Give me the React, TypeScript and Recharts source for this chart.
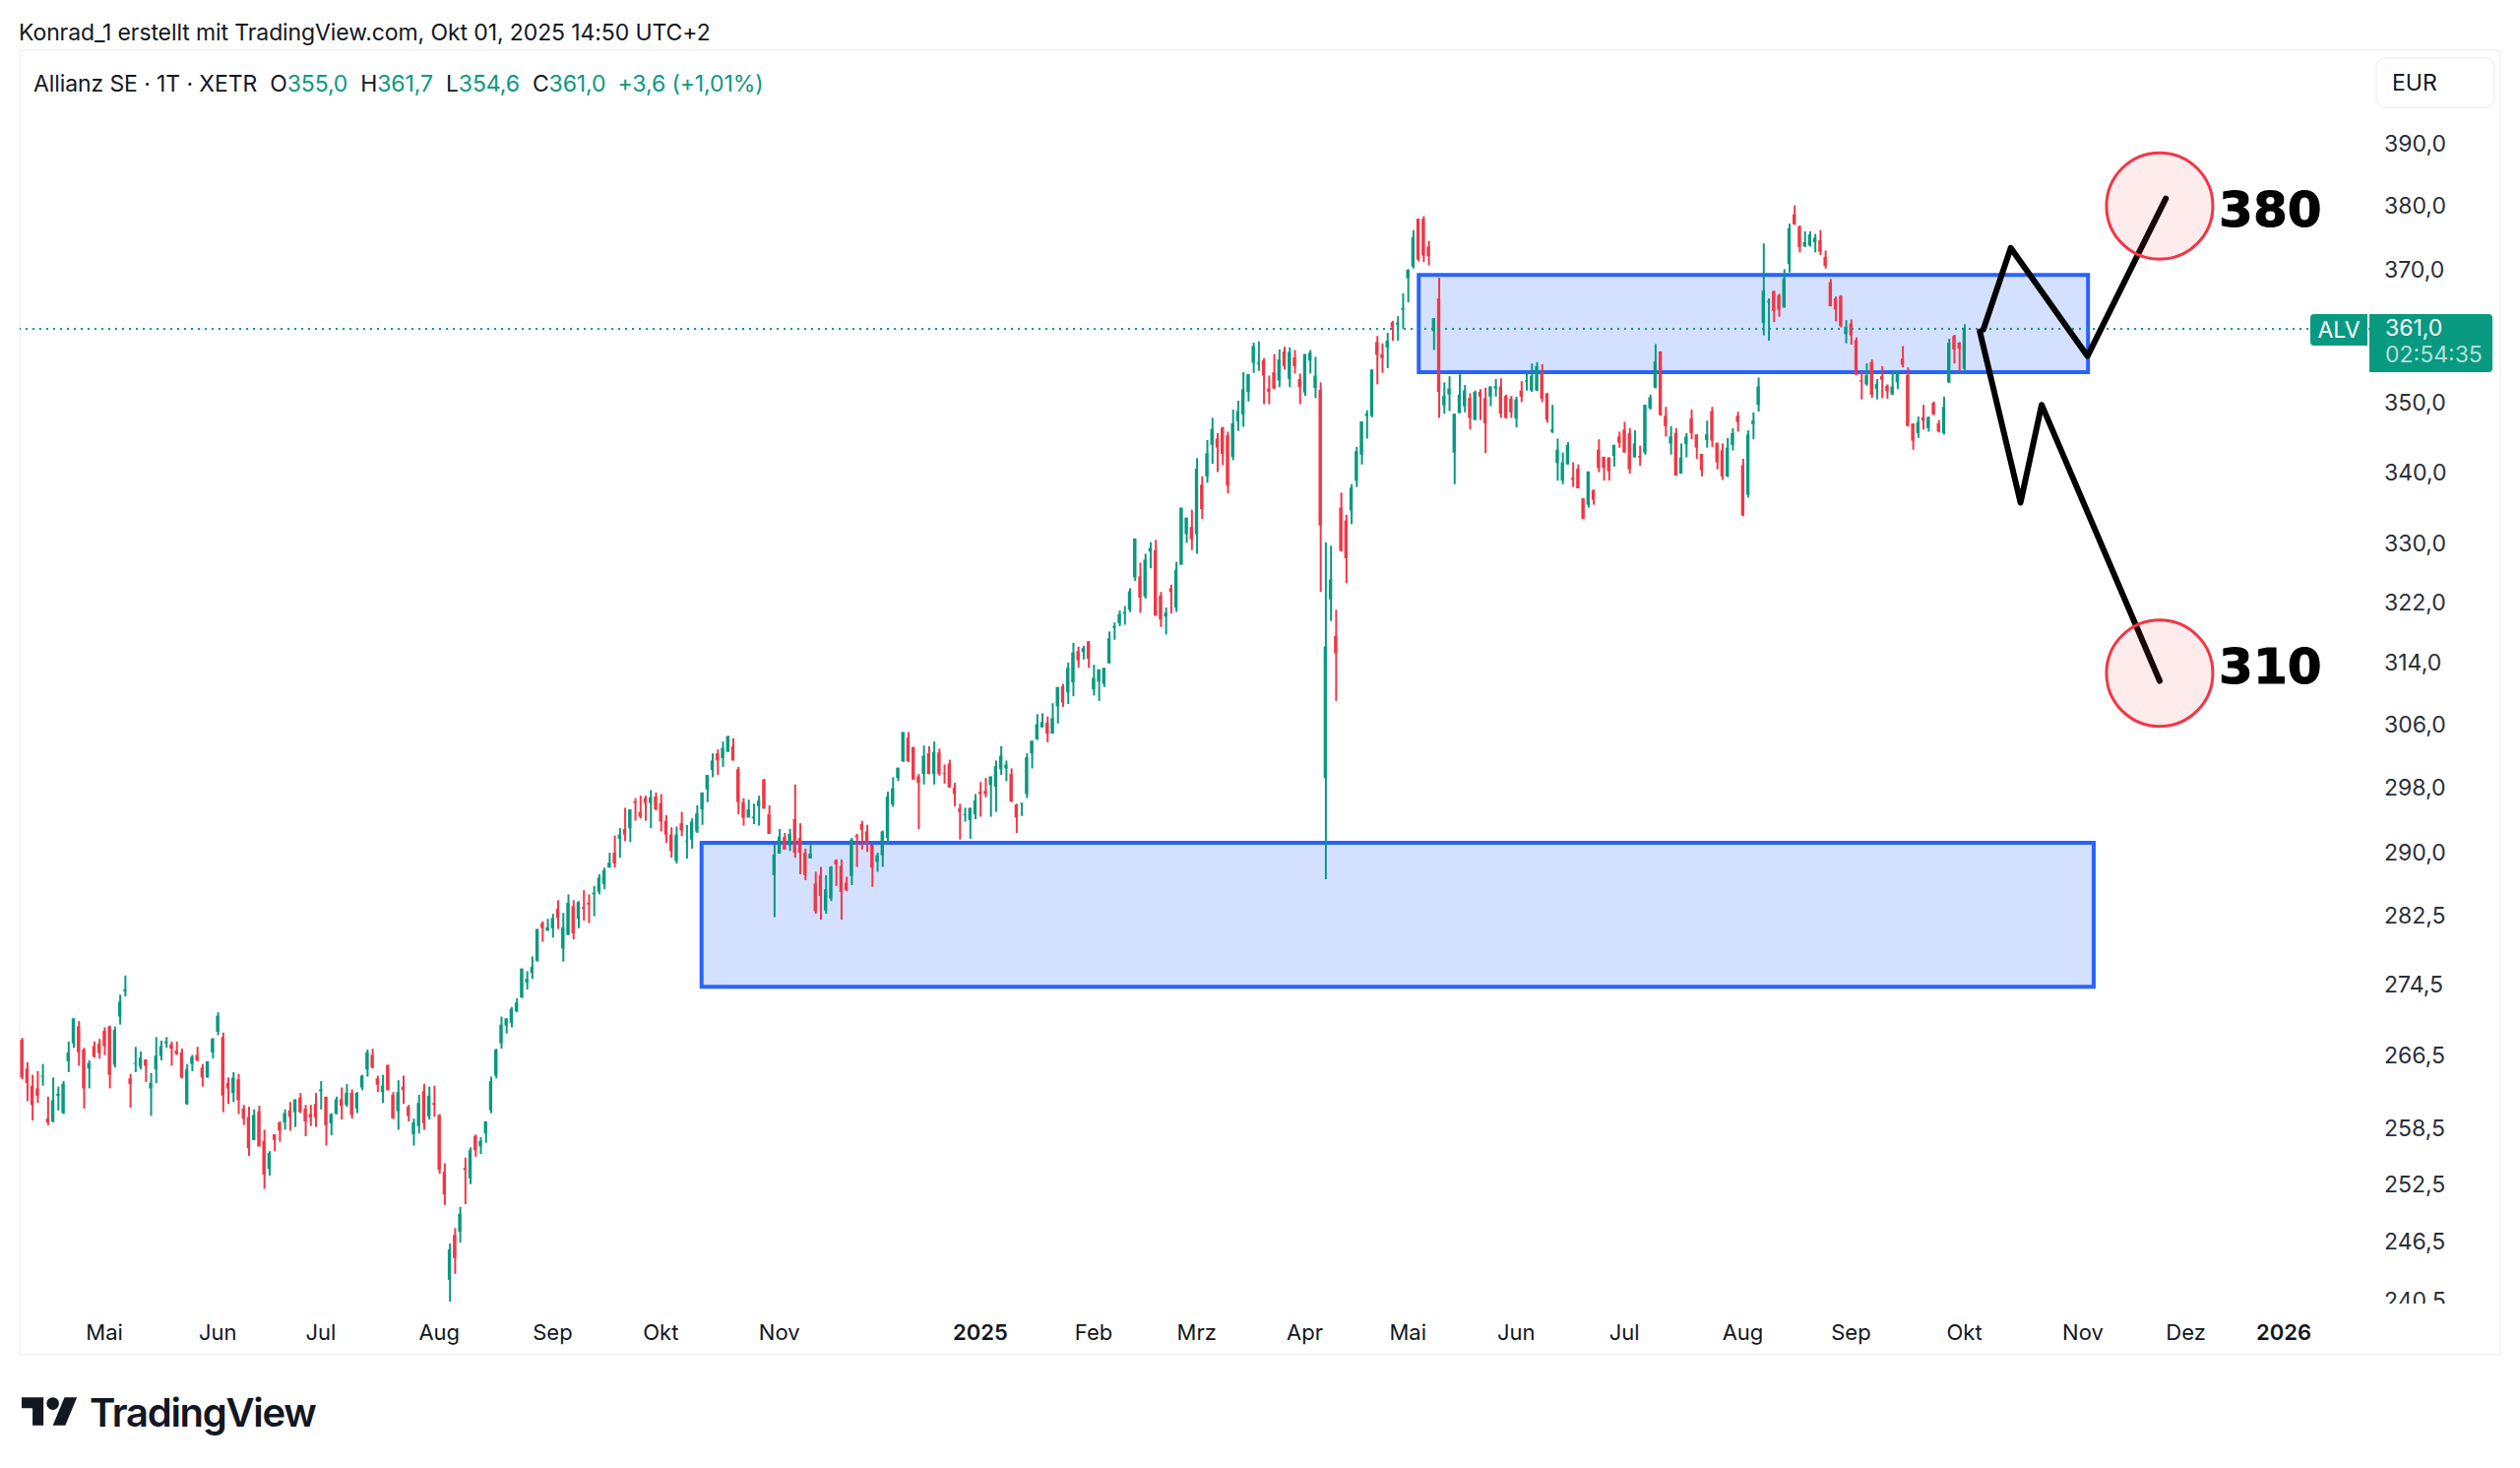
import { ComposedChart, Bar, Cell, Line, XAxis, YAxis, ReferenceArea, ReferenceDot, ReferenceLine } from "recharts"

const UP = "#089981"
const DOWN = "#F23645"
const BLUE = "#2962FF"
const INK = "#131722"
const FONT = "Inter, Roboto, sans-serif"

// daily candles, left to right
const opens = [
  268.2,265,263.1,262.8,264.1,259.5,259.2,262,260.1,265.8,
  267.8,269.7,267.1,265,267.5,267.8,269.2,269.7,265.4,270.8,
  273.7,263.9,265.5,265.2,266,262.8,264.9,266.4,267.8,267.7,
  267,266.8,261.1,265.5,266.5,265.1,264,266.8,269.1,268.5,
  263.4,262.3,263.8,260.6,259.7,257.2,260.3,257.1,254.1,257.8,
  259.1,259.1,260.4,260.2,261.8,260.6,260,261.1,262.5,261.9,
  259,260,261.6,261,262.3,260.6,262.9,264.9,266.5,263.9,
  262.4,265.4,262.1,260.3,263,260.8,257.8,258.7,262.5,259.7,
  261.2,259.9,253.8,242.6,247.2,247.5,254.2,253.1,257.6,256.5,
  257.9,260.4,264.2,267.8,269.8,270.1,271.4,273,274.7,275.8,
  277.2,281.6,280.7,281,283.3,278.6,280.2,283.6,282.1,283.5,
  284,285,285.3,286.2,288.2,290,291.7,292.9,293,296.3,
  295,296.7,296.1,296.9,296.1,293.9,292.2,289,293.6,291.3,
  291.6,292.6,295.3,297.8,300.2,302.3,301.7,302.5,303.2,300.3,
  296.2,294.3,294.2,295.7,299,294.7,287.3,289.9,291.9,290.9,
  294.1,291.8,290,289.3,286.3,287.3,283.1,284.5,289.1,288.4,
  286.4,287.2,292.1,293.5,292.6,291,288.9,289.7,291.8,295.9,
  299.2,301.3,304.3,303.1,299.4,299.7,302.3,299.7,302.4,299.8,
  301,298,295.4,294.6,294,294.7,297.5,297.6,298.3,298.1,
  300.3,300.4,299.7,295.9,296,297.2,302.3,304.1,305.6,306.2,
  304.8,308.3,310.9,310.1,311.4,315.5,315.4,316.8,310.5,311.5,
  311.2,313.9,318.6,319.2,320.5,321,325.4,325.5,322.8,328.9,
  329.1,322.9,320.1,323.9,321.3,327.1,331.3,332.3,331.3,338.2,
  339.4,343.9,344.8,346.4,345.3,342.2,347.3,348.3,351.6,355.9,
  355.7,356.3,352.1,354.5,353.3,357.6,353.5,356.7,353.5,351.5,
  356.2,352.2,351.9,299.2,322.4,317.5,335,333.2,334.6,338.8,
  342.5,348.1,348.1,359,357.2,358.2,362,361.6,363.9,368.7,
  370.5,378,378,373.6,360.6,365.6,349.6,351.2,342.8,348.5,
  349.5,350.7,347.5,351.6,350.7,350.9,352.1,352.4,351,350.6,
  347.7,351.8,353.1,351.8,351.8,354.3,351.4,345.8,341.3,338.8,
  341.1,339.2,340.5,336.3,335.4,337.5,343.2,342.2,342.1,342.3,
  345.1,346.1,345.6,342.1,342.3,342.8,349.2,352.2,357.6,348.1,
  344.1,345.6,339.8,344,347.7,345.4,342.6,344.6,348.8,344.2,
  343.1,339.4,343.9,348.1,341,336.8,346.9,349.7,361.9,365,
  366.7,366.1,364.2,370.9,378.7,376.8,373.7,373.8,374.3,374.6,
  372,368.1,365.6,366,360.2,361.8,359.3,353.3,352.7,356,
  352,353.9,352.5,351.2,353,356.5,354.1,347,345.6,347.9,
  346.3,350,347,345.6,353,359.9,358.9,355,
]
const highs = [
  268.4,265.7,264.3,264.7,265.5,261.9,264,263,263.6,268,
  270.6,270.3,267.3,265.9,268,268.3,269.6,269.8,269.7,273.3,
  275.5,264.4,267.4,266.9,266,264.5,268.5,268.1,268.5,268,
  268,267.2,265.5,266.5,267.4,265.5,265.8,268.4,271.3,269,
  264,264.6,264.4,261,260.8,260.5,260.9,258.3,256,257.8,
  259.2,260.5,261.3,261.6,262.3,261,261,262.3,263.6,261.9,
  260.1,261.9,262.9,263.3,262.7,262.4,264.3,267.1,267.2,264.2,
  264.3,265.4,262.4,263.7,264.2,261,259.5,262.1,263.3,263,
  263.1,260,254.7,246.3,247.9,250.1,255.3,256.4,257.8,257.5,
  259.2,264.1,267.2,270.8,270.6,271.9,272.9,276.3,276,277.7,
  280.9,281.8,282.1,282.7,284.3,282.8,285,284.3,284.2,285.5,
  285,286,287.4,288.2,290,292.1,293,295.5,295.3,296.7,
  297,297,297.7,297.4,297.2,294.6,293.1,293.2,295,293.4,
  294.2,295.8,297.4,299.6,302.3,302.8,303.8,304.5,304.2,300.6,
  296.7,296.5,296,297,299.1,295.8,291,292.9,292.4,292.9,
  298.4,293.6,290.5,291.2,287.7,288.3,287.3,288.4,289.2,289.2,
  287.1,291.8,292.3,293.9,293.4,291,290,292.7,297.5,299.3,
  300.5,305,305,303.1,299.7,303.3,303.2,303.8,302.9,300.9,
  301.5,298.6,296,295.5,295.5,297.2,298.7,299.2,299.4,301.4,
  303.2,301.4,300.4,296,296.1,302.3,303.9,307.3,307.4,307,
  308.7,310.8,311.2,314,316.6,316.1,316.2,316.8,313.7,313.1,
  313.3,318.1,319.3,320.9,321.5,323.9,330.7,327.4,328.6,330.2,
  330.5,323.4,321.3,324.4,327.5,335,333.6,334.7,342,339.4,
  344.6,347.8,345.6,346.5,345.8,349,350.3,354.5,354.2,358.9,
  359.1,356.6,354,357.2,357.9,358.3,358.2,357.8,354.3,357.2,
  357.8,356.8,353,330.2,329.7,321,337.1,334,338.3,343.6,
  347.3,348.9,354.9,359.9,358.8,360.4,362.2,362.9,366.4,370.1,
  376.2,378,378.4,374.5,362.6,368.8,353,353.9,348.4,354.2,
  352.6,351.4,351.8,352,352.2,352.4,353.5,353.6,351.2,351,
  350.9,353.2,354.6,355.8,356,355.7,351.4,349.7,344.8,342.8,
  344.3,341.4,341.1,336.3,340.1,337.5,344.7,342.2,342.1,343.9,
  345.8,347.2,346.3,346,343.8,349.7,351.2,358.7,357.6,349.4,
  346.6,346.3,344.1,345.6,349,345.4,342.6,347.4,349.4,344.2,
  344.1,344.9,346.3,348.7,341.9,346,348.6,353.7,374.1,365.6,
  366.8,366.3,370.1,377.2,380.1,376.9,376,376,375.6,376.2,
  373,368.6,365.9,366.1,362.3,362.4,359.7,354.6,355.8,356.4,
  353.5,355.4,352.7,354.6,354.8,358.4,355.2,347,348,349.7,
  348,350.2,347.5,350.9,359.5,360.1,359,361.7,
]
const lows = [
  263.8,261.4,259.3,261.2,263.1,258.8,259.1,260.4,260,264.6,
  267.3,265.3,260.6,262.8,266.2,266.1,266.5,262.8,265.1,269.9,
  273.1,260.7,264.6,264.9,263.5,259.8,263.4,265.9,267.3,265.3,
  266.5,263.9,261,264.7,265.8,263,264,266.1,268.7,260.2,
  261.1,261.3,260,258.8,255.5,257.2,256.5,252,253.4,256,
  257,258.3,258.2,258.6,260.1,257.6,258.7,258.6,260.5,256.6,
  257.7,260,259.4,260.8,259.5,260.1,262.6,264.1,265,262.4,
  261.2,262.6,259.5,258.3,261.1,259.2,256.6,257.9,258.3,259.4,
  259.7,253.6,250.3,240.4,243.2,246.4,250.4,252.5,255.4,255.7,
  256.9,260.1,263.9,267.2,268.9,269.6,271.3,272.9,273.9,275.1,
  277.1,279.4,280.7,279.9,280.9,277.1,280.2,279.7,281,281.9,
  281.6,282.4,285,285.6,288.2,288.2,289.4,291.4,291.3,293.9,
  294.2,293.9,293,295.2,292.6,291.2,289.4,288.7,292,289.3,
  290.5,292.4,293.4,296.2,299.3,299.6,300.6,302.5,301.4,294.7,
  293.3,294.3,293.5,293.3,295.4,292.3,282.3,289.9,290.4,290.2,
  289.4,287.4,286.7,289.3,282.7,282,282.7,284.2,286,282,
  285.4,286.1,288.3,290.4,290.1,285.9,287.7,288.3,291.1,295.6,
  298.8,301.2,301.2,299,292.9,298.4,299.7,298.4,299.5,298.5,
  298,295.7,291.6,293.8,291.7,294.1,294.4,296.8,294.4,295,
  299.6,298.8,296.2,292.4,294.5,296.7,300.4,304,305.6,303.7,
  304.8,306.1,308.2,308.6,309.6,313.3,314.4,313.3,309.7,309,
  310.8,313.9,317,318.8,319,320.7,324.9,320.6,322.5,326.6,
  320.2,318.7,317.7,320.5,320.7,327.1,330.1,329.1,328.6,333.4,
  338.5,341.2,340,341,337,341.7,345.9,346.5,350.2,354.4,
  354.7,349.8,349.8,352,352.3,354.9,352.3,354.3,349.8,351,
  354.3,350.7,323.4,286.8,319.5,309,328.9,324.6,332.7,337.9,
  341.1,344.8,347.9,352.7,354.4,355.1,359.2,359.2,361,365,
  370.2,371.3,371.2,370.7,357.8,347.8,348.4,348.8,338.3,348.5,
  348.6,346.1,347.5,347.5,342.7,349.5,350.9,347.8,347.7,347.8,
  346.4,350.1,351.8,351.6,351.7,350.1,347.1,345.6,338.8,338.3,
  341.1,337.9,337.7,333.4,335,335.4,340,338.8,338.8,340.8,
  343.5,342.8,339.8,342.1,340.9,342.5,349,352.1,348.1,345.1,
  342.5,339.5,339.8,342.1,344.7,341.9,339.4,343.5,343.6,340.4,
  338.9,339.3,343.1,345.8,333.8,336.4,344.7,348.7,360,359.2,
  362,362.8,364.2,369.6,377,372.7,373.5,373.6,372.7,372.3,
  370.2,364.4,362.1,361.2,358.8,358.6,354.1,350.5,352.5,350.7,
  350.5,350.7,350.6,351.2,352,355.2,346.6,343.2,344.9,346.1,
  345.8,348.2,345.7,345.4,352.9,355.8,354.6,354.6,
]
const closes = [
  264,263.4,261,262,264.2,259.1,261.5,262.2,263.3,266.8,
  270.6,266.8,262.8,265.6,266.3,266.7,267.5,264.3,269.3,272.5,
  273.9,263.3,265.6,266.2,265.3,263.4,266.4,267.5,268,267.2,
  266.6,264,264.9,266.3,265.9,264,265.8,268.3,270.9,262,
  262.8,264,261.5,259.5,256.3,259.9,256.5,253.5,255.8,257.2,
  258.2,260.1,259.7,261.6,260.2,259.2,259.6,259.6,262.7,258.8,
  260,261.6,260.9,262.3,259.9,262.3,264.2,266.8,265.1,263.2,
  263.1,262.6,259.5,262.4,262.6,259.8,259.1,261.2,259,262,
  261,254,251.4,245.7,244.8,249.4,254,256.1,256.1,257.1,
  259.2,263.6,267.1,269.9,270.6,271.7,272.4,276.3,275.1,276.5,
  280.9,281,281.1,282.2,282.2,281.1,284,280.4,284.1,283.3,
  283.8,285.2,287,287.9,288.8,288.7,292.2,292.2,295.3,296.1,
  294.4,296.1,296.8,295.3,293.8,292.2,290.2,292.2,292.7,291.4,
  293.8,294.8,297.4,299.6,301.4,301.4,303,304.5,301.4,296.2,
  294.3,295.3,294.4,296.4,295.4,292.3,289.8,292,290.4,292.3,
  290,290,287.3,289.9,283,284.8,285.6,288.3,288.6,285.3,
  285.5,291.6,291.9,292.8,291.1,288.2,289.7,292.6,296.9,297.9,
  300.5,305,301.3,299,298.6,302,299.7,302.5,299.7,299.7,
  298,297.2,295,294.7,295.5,296.4,297.2,297.2,299.4,300.7,
  302,300.9,296.3,294.3,296.1,301.8,303.9,306,306.3,304.8,
  306.8,310.8,308.8,313.3,315.3,314.3,315.9,314.5,312,313.1,
  313.3,317.2,318.8,320.4,320.7,323.5,330.7,322.6,327.8,329.4,
  320.2,319.7,320.6,323.4,326.4,335,333.6,330.6,340.5,334.8,
  342.7,346.2,343.5,342.6,338.1,347,348.8,352,354.2,358.4,
  355.9,354,351.6,352.1,356.4,355.4,357.5,355.4,352.3,357.2,
  357.4,354,332.5,316.1,325.1,315.2,329,328,337.8,343,
  347.3,348.4,354.9,357.1,356.6,359.2,361.2,361.9,364.1,370,
  375.1,371.6,372.2,372.1,362.6,351.6,351,352.1,348.4,351.2,
  351.8,347.8,351.6,350.9,347,352.4,352.4,348.4,347.8,348.6,
  350.5,350.9,353.3,354,355.4,350.6,347.5,346.1,343.2,341.4,
  343.9,338.9,337.7,333.4,340.1,336.1,340.6,340.6,340.1,343.9,
  344.2,342.8,340.4,344.1,342.1,349.7,350.8,356.1,348.2,346.6,
  345.1,339.5,342.1,345.1,345.6,343.5,340.3,345.4,344.5,341.4,
  339.4,343.5,345.6,347.2,333.9,345.4,347.4,352.4,366.8,365.2,
  363.7,363.9,368.7,376.5,377.1,373.5,374.3,375.5,375,372.8,
  370.6,364.4,363.9,361.4,361.3,360,354.1,353.1,354.1,351.2,
  352.8,353.4,351.7,352.4,354.6,355.6,346.6,344.5,347.2,347.4,
  347.9,348.3,345.8,349.4,358.9,357.9,358,361,
]

const priceTicks = [390, 380, 370, 350, 340, 330, 322, 314, 306, 298, 290, 282.5, 274.5, 266.5, 258.5, 252.5, 246.5, 240.5]
const timeTicks = [16, 38, 58, 81, 103, 124, 147, 186, 208, 228, 249, 269, 290, 311, 334, 355, 377, 400, 420, 439]
const timeLabels = ["Mai", "Jun", "Jul", "Aug", "Sep", "Okt", "Nov", "2025", "Feb", "Mrz", "Apr", "Mai", "Jun", "Jul", "Aug", "Sep", "Okt", "Nov", "Dez", "2026"]

const upPath = [
  { i: 380.7, price: 360.9 },
  { i: 386, price: 373.4 },
  { i: 400.9, price: 356.9 },
  { i: 416.1, price: 381.2 },
]
const downPath = [
  { i: 380, price: 360.6 },
  { i: 387.9, price: 335.7 },
  { i: 392, price: 349.7 },
  { i: 414.9, price: 311.6 },
]

const chartData = opens.map((open, i) => ({
  i,
  wick: [lows[i], highs[i]],
  body: [Math.min(open, closes[i]), Math.max(open, closes[i])],
  color: closes[i] >= open ? UP : DOWN,
}))

const X_DOMAIN: [number, number] = [-0.44, 455.8]

function TimeTick({ x, y, payload }: any) {
  const label = timeLabels[timeTicks.indexOf(payload.value)]
  const year = label.length === 4
  return (
    <text x={x} y={y} textAnchor="middle" dominantBaseline="middle" fontFamily={FONT} fontSize={22} fontWeight={year ? 600 : 400} fill={INK}>
      {label}
    </text>
  )
}

function PriceTag() {
  return (
    <>
      <div style={{ position: "absolute", left: 2347, top: 319, width: 58, height: 32, background: UP, borderRadius: "4px 0 0 4px", color: "#fff", fontFamily: FONT, fontSize: 23, lineHeight: "32px", textAlign: "center" }}>
        ALV
      </div>
      <div style={{ position: "absolute", left: 2407, top: 319, width: 125, height: 59, background: UP, borderRadius: "0 4px 4px 0", fontFamily: FONT, fontSize: 23 }}>
        <div style={{ position: "absolute", left: 16, top: 1, lineHeight: "27px", color: "#fff" }}>361,0</div>
        <div style={{ position: "absolute", left: 16, top: 28, lineHeight: "27px", color: "rgba(255,255,255,0.7)" }}>02:54:35</div>
      </div>
    </>
  )
}

export default function App() {
  const green = { color: UP }
  return (
    <div style={{ position: "absolute", left: 0, top: 0, width: 2560, height: 1491, background: "#fff", overflow: "hidden" }}>
      <div style={{ position: "absolute", left: 19, top: 50, width: 2518, height: 1323, border: "2px solid #f2f4f8" }} />
      <div style={{ position: "absolute", left: 19, top: 19, fontFamily: FONT, fontSize: 23, lineHeight: "28px", letterSpacing: -0.1, color: INK, whiteSpace: "nowrap" }}>
        Konrad_1 erstellt mit TradingView.com, Okt 01, 2025 14:50 UTC+2
      </div>
      <div style={{ position: "absolute", left: 34, top: 70, fontFamily: FONT, fontSize: 23, lineHeight: "30px", letterSpacing: -0.1, color: INK, whiteSpace: "nowrap" }}>
        Allianz SE · 1T · XETR<span style={{ marginLeft: 13 }}>O</span><span style={green}>355,0</span>
        <span style={{ marginLeft: 13 }}>H</span><span style={green}>361,7</span>
        <span style={{ marginLeft: 13 }}>L</span><span style={green}>354,6</span>
        <span style={{ marginLeft: 13 }}>C</span><span style={green}>361,0</span>
        <span style={{ ...green, marginLeft: 12 }}>+3,6 (+1,01%)</span>
      </div>

      <div style={{ position: "absolute", left: 0, top: 0 }}>
        <ComposedChart width={2560} height={1491} data={chartData} barCategoryGap={0} margin={{ top: 52, right: 0, bottom: 0, left: 20 }}>
          <XAxis xAxisId="wicks" dataKey="i" type="number" domain={X_DOMAIN} hide />
          <XAxis
            xAxisId="bodies"
            dataKey="i"
            type="number"
            domain={X_DOMAIN}
            ticks={timeTicks}
            interval={0}
            height={167}
            axisLine={false}
            tickLine={false}
            tickMargin={25}
            tick={<TimeTick />}
          />
          <YAxis
            orientation="right"
            scale="log"
            domain={[240.2, 405.4]}
            allowDataOverflow
            ticks={priceTicks}
            interval={0}
            width={152}
            axisLine={false}
            tickLine={false}
            tickMargin={8}
            tick={{ fontFamily: FONT, fontSize: 23, fill: "#2a2e39" }}
            tickFormatter={(v: number) => v.toFixed(1).replace(".", ",")}
          />
          <ReferenceLine xAxisId="bodies" y={361} stroke={UP} strokeWidth={2} strokeDasharray="2 5" />
          <Bar xAxisId="wicks" dataKey="wick" barSize={2} isAnimationActive={false}>
            {chartData.map((d) => <Cell key={d.i} fill={d.color} />)}
          </Bar>
          <Bar xAxisId="bodies" dataKey="body" barSize={5.2} isAnimationActive={false}>
            {chartData.map((d) => <Cell key={d.i} fill={d.color} />)}
          </Bar>
          <ReferenceArea xAxisId="bodies" x1={131.9} x2={402.1} y1={274.2} y2={291.2} fill={BLUE} fillOpacity={0.2} stroke={BLUE} strokeWidth={4} />
          <ReferenceArea xAxisId="bodies" x1={271.1} x2={401} y1={354.5} y2={369.2} fill={BLUE} fillOpacity={0.2} stroke={BLUE} strokeWidth={4} />
          <ReferenceDot xAxisId="bodies" x={414.9} y={380} r={54} fill={DOWN} fillOpacity={0.1} stroke={DOWN} strokeWidth={3} />
          <ReferenceDot xAxisId="bodies" x={414.9} y={312.6} r={54} fill={DOWN} fillOpacity={0.1} stroke={DOWN} strokeWidth={3} />
          <Line xAxisId="bodies" data={upPath} dataKey="price" stroke="#000" strokeWidth={6} strokeLinecap="round" strokeLinejoin="round" dot={false} activeDot={false} isAnimationActive={false} />
          <Line xAxisId="bodies" data={downPath} dataKey="price" stroke="#000" strokeWidth={6} strokeLinecap="round" strokeLinejoin="round" dot={false} activeDot={false} isAnimationActive={false} />
          <ReferenceDot
            xAxisId="bodies"
            x={426.4}
            y={379.6}
            r={0}
            label={{ value: "380", position: "right", offset: 0, fontFamily: "DejaVu Sans", fontWeight: 700, fontSize: 50, fill: "#000", stroke: "#000", strokeWidth: 1 }}
          />
          <ReferenceDot
            xAxisId="bodies"
            x={426.4}
            y={313.6}
            r={0}
            label={{ value: "310", position: "right", offset: 0, fontFamily: "DejaVu Sans", fontWeight: 700, fontSize: 50, fill: "#000", stroke: "#000", strokeWidth: 1 }}
          />
        </ComposedChart>
      </div>

      {/* the lowest price label is cut by the pane edge */}
      <div style={{ position: "absolute", left: 2409, top: 1324, width: 125, height: 14, background: "#fff" }} />
      <PriceTag />
      <div style={{ position: "absolute", left: 2413, top: 58, width: 118, height: 48, border: "2px solid #f2f4f8", borderRadius: 10, fontFamily: FONT, fontSize: 23, lineHeight: "48px", color: INK, textIndent: 15 }}>
        EUR
      </div>
      <svg style={{ position: "absolute", left: 22, top: 1419 }} width={57} height={29} viewBox="0 4 36 18">
        <path d="M14 22H7V11H0V4h14v18zM28 22h-8l7.5-18h8L28 22z" fill={INK} />
        <circle cx="20" cy="8" r="4" fill={INK} />
      </svg>
      <div style={{ position: "absolute", left: 91, top: 1410, fontFamily: FONT, fontSize: 40, fontWeight: 600, lineHeight: "50px", letterSpacing: -1.3, color: INK }}>
        TradingView
      </div>
    </div>
  )
}
